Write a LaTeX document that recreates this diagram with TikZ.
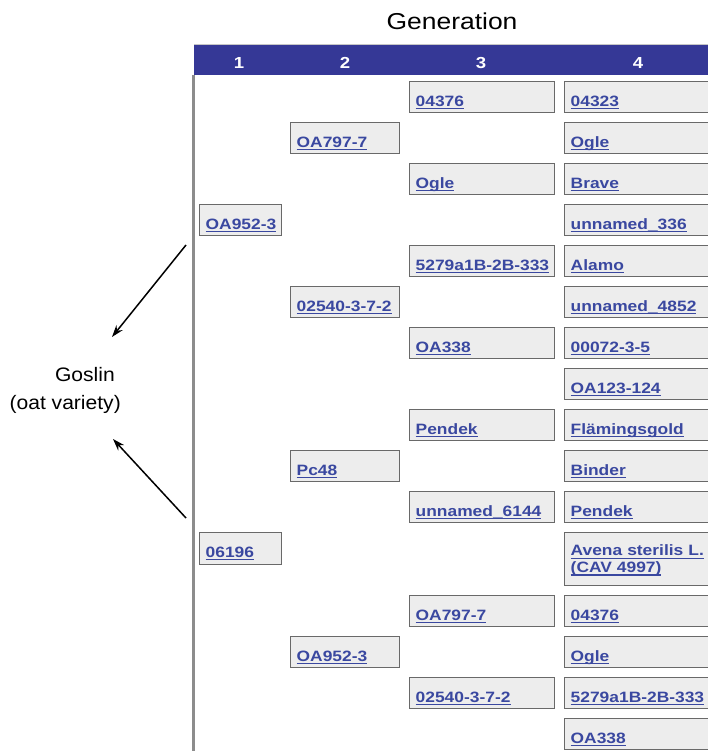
\documentclass[tikz,border=0pt]{standalone}
\usepackage{fontspec}
\setmainfont{Liberation Sans}
\newfontfamily\lblfont[FakeStretch=1.16]{Liberation Sans}
\newfontfamily\titlefont[FakeStretch=1.15]{Liberation Sans}
\newfontfamily\gosfont[FakeStretch=1.08]{Liberation Sans}
\usetikzlibrary{arrows.meta}
\definecolor{hdrblue}{RGB}{53,56,150}
\definecolor{lnkblue}{RGB}{58,72,160}
\definecolor{boxfill}{RGB}{237,237,237}
\definecolor{boxline}{RGB}{105,105,105}
\definecolor{tblline}{RGB}{140,140,140}
\newcommand\lnk[1]{\leavevmode\vtop{\hbox{\raisebox{0pt}[\height][0pt]{#1}}\kern1.9pt\hrule height 1.2pt}}
\begin{document}
\begin{tikzpicture}[x=1pt,y=-1pt,
  pbox/.style={draw=boxline, line width=1.4pt, fill=boxfill, anchor=north west,
    inner xsep=6pt, inner ysep=0pt, text height=24.5pt, text depth=6.5pt,
    align=left, text=lnkblue, font=\lblfont\bfseries\fontsize{15}{20}\selectfont},
  wa/.style={text width=70pt},
  wb/.style={text width=97pt},
  wc/.style={text width=133pt},
  wd/.style={text width=158pt},
  hnum/.style={text=white, anchor=base, inner sep=0pt, font=\lblfont\bfseries\fontsize{16}{18}\selectfont},
  arr/.style={-{Stealth[length=12pt,width=8pt]}, line width=1.5pt, black}
]
\useasboundingbox (0,0) rectangle (708,751);
\clip (0,0) rectangle (708,751);
% title
\node[anchor=base, inner sep=0pt, font=\titlefont\fontsize{23}{26}\selectfont] (title) at (452,29.3) {Generation};
% header bar
\fill[hdrblue] (194,45) rectangle (720,75.5);
\draw[gray!45, line width=0.8pt] (194,44.6) -- (708,44.6);
\node[hnum] (h1) at (239,68.3) {1};
\node[hnum] (h2) at (345,68.3) {2};
\node[hnum] (h3) at (481,68.3) {3};
\node[hnum] (h4) at (638,68.3) {4};
% table left border
\draw[tblline, line width=2.5pt] (193.5,75.5) -- (193.5,751);
% column 4
\node[pbox,wd] (d0) at (564,81) {\lnk{04323}};
\node[pbox,wd] (d1) at (564,122) {\lnk{Ogle}};
\node[pbox,wd] (d2) at (564,163) {\lnk{Brave}};
\node[pbox,wd] (d3) at (564,204) {\lnk{unnamed\_336}};
\node[pbox,wd] (d4) at (564,245) {\lnk{Alamo}};
\node[pbox,wd] (d5) at (564,286) {\lnk{unnamed\_4852}};
\node[pbox,wd] (d6) at (564,327) {\lnk{00072-3-5}};
\node[pbox,wd] (d7) at (564,368) {\lnk{OA123-124}};
\node[pbox,wd] (d8) at (564,409) {\lnk{Flämingsgold}};
\node[pbox,wd] (d9) at (564,450) {\lnk{Binder}};
\node[pbox,wd] (d10) at (564,491) {\lnk{Pendek}};
\node[pbox,wd,text height=23pt,text depth=30pt] (d11) at (564,532) {\lnk{Avena sterilis L.}\\[-3.2pt]\lnk{(CAV 4997)}};
\node[pbox,wd] (d12) at (564,595) {\lnk{04376}};
\node[pbox,wd] (d13) at (564,636) {\lnk{Ogle}};
\node[pbox,wd] (d14) at (564,677) {\lnk{5279a1B-2B-333}};
\node[pbox,wd] (d15) at (564,718) {\lnk{OA338}};
% column 3
\node[pbox,wc] (c0) at (409,81) {\lnk{04376}};
\node[pbox,wc] (c1) at (409,163) {\lnk{Ogle}};
\node[pbox,wc] (c2) at (409,245) {\lnk{5279a1B-2B-333}};
\node[pbox,wc] (c3) at (409,327) {\lnk{OA338}};
\node[pbox,wc] (c4) at (409,409) {\lnk{Pendek}};
\node[pbox,wc] (c5) at (409,491) {\lnk{unnamed\_6144}};
\node[pbox,wc] (c6) at (409,595) {\lnk{OA797-7}};
\node[pbox,wc] (c7) at (409,677) {\lnk{02540-3-7-2}};
% column 2
\node[pbox,wb] (b0) at (290,122) {\lnk{OA797-7}};
\node[pbox,wb] (b1) at (290,286) {\lnk{02540-3-7-2}};
\node[pbox,wb] (b2) at (290,450) {\lnk{Pc48}};
\node[pbox,wb] (b3) at (290,636) {\lnk{OA952-3}};
% column 1
\node[pbox,wa] (a0) at (199,204) {\lnk{OA952-3}};
\node[pbox,wa,text depth=7.5pt] (a1) at (199,532) {\lnk{06196}};
% Goslin
\node[anchor=north east, inner sep=0pt, align=right, font=\gosfont\fontsize{19.5}{28}\selectfont] (gos) at (121,367.5) {\mbox{Goslin\kern6pt}\\(oat variety)};
\coordinate (u1) at (186,245);
\coordinate (u2) at (112,337);
\coordinate (l1) at (186,518);
\coordinate (l2) at (113,439);
\draw[arr] (u1) -- (u2);
\draw[arr] (l1) -- (l2);
\end{tikzpicture}
\end{document}
